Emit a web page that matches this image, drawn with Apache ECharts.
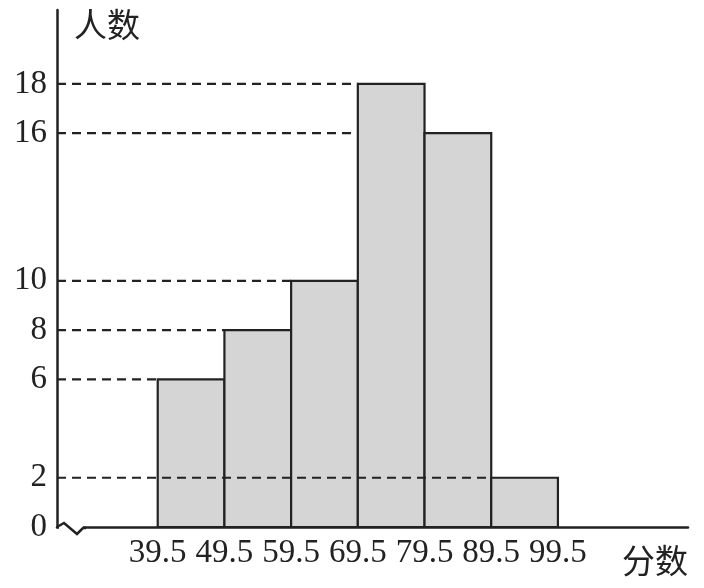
<!DOCTYPE html>
<html><head><meta charset="utf-8">
<script src="https://cdn.jsdelivr.net/npm/echarts@6/dist/echarts.min.js"></script>
<style>html,body{margin:0;padding:0;background:#fff}#c{width:704px;height:588px}</style>
</head><body><div id="c"></div>
<script>
var binEdges = [39.5, 49.5, 59.5, 69.5, 79.5, 89.5, 99.5];
var counts = [6, 8, 10, 18, 16, 2];
var yTicks = [0, 2, 6, 8, 10, 16, 18];
var xName = '分数', yName = '人数';

var XMIN = 24.4, XMAX = 119;
var bars = counts.map(function (c, i) { return [binEdges[i], binEdges[i + 1], c]; });

// dashed guide lines: from y-axis to left edge of the bar with that count
var guideSeries = counts.map(function (c, i) {
  return {
    type: 'line', data: [[XMIN, c], [binEdges[i], c]], symbol: 'none',
    z: (c === 2 ? 5 : 1),
    lineStyle: { color: '#222', width: 2.2, type: [9, 6] }, silent: true
  };
});

var chart = echarts.init(document.getElementById('c'));
var serif = '"Liberation Serif","DejaVu Serif",serif';
var cjk = '"Noto Sans CJK SC",sans-serif';
chart.setOption({
  animation: false,
  grid: { left: 57, right: 16, top: 10, bottom: 61 },
  xAxis: {
    type: 'value', min: XMIN, max: XMAX,
    name: xName, nameLocation: 'end', nameGap: -66,
    nameTextStyle: { fontFamily: cjk, fontSize: 33, color: '#222', align: 'left', verticalAlign: 'top', padding: [17, 0, 0, 0] },
    axisLine: { show: true, lineStyle: { color: '#222', width: 2.5 } },
    axisTick: { show: false },
    splitLine: { show: false },
    axisLabel: { customValues: binEdges, fontFamily: serif, fontSize: 33, color: '#222', margin: 10,
      formatter: function (v) { return v.toFixed(1); } }
  },
  yAxis: {
    type: 'value', min: 0, max: 21,
    name: yName, nameLocation: 'end', nameGap: -14,
    nameTextStyle: { fontFamily: cjk, fontSize: 33, color: '#222', align: 'left', verticalAlign: 'middle', padding: [0, 0, 0, 17] },
    axisLine: { show: true, lineStyle: { color: '#222', width: 2.5 } },
    axisTick: { show: false },
    splitLine: { show: false },
    axisLabel: { customValues: yTicks, fontFamily: serif, fontSize: 33, color: '#222', margin: 10 }
  },
  series: [{
    type: 'custom', z: 2,
    renderItem: function (params, api) {
      var p0 = api.coord([api.value(0), 0]);
      var p1 = api.coord([api.value(1), api.value(2)]);
      return {
        type: 'rect',
        shape: { x: p0[0], y: p1[1], width: p1[0] - p0[0], height: p0[1] - p1[1] },
        style: { fill: '#d5d5d5', stroke: '#222', lineWidth: 2.2 }
      };
    },
    encode: { x: [0, 1], y: 2 },
    data: bars
  }].concat(guideSeries),
  graphic: [
    { type: 'rect', shape: { x: 59, y: 520, width: 24, height: 12 }, style: { fill: '#fff' }, z: 100 },
    { type: 'polyline', shape: { points: [[57, 527], [64, 523], [77, 534], [83, 528], [86, 528]] },
      style: { stroke: '#222', lineWidth: 2.5, fill: null }, z: 101 }
  ]
});
</script></body></html>
